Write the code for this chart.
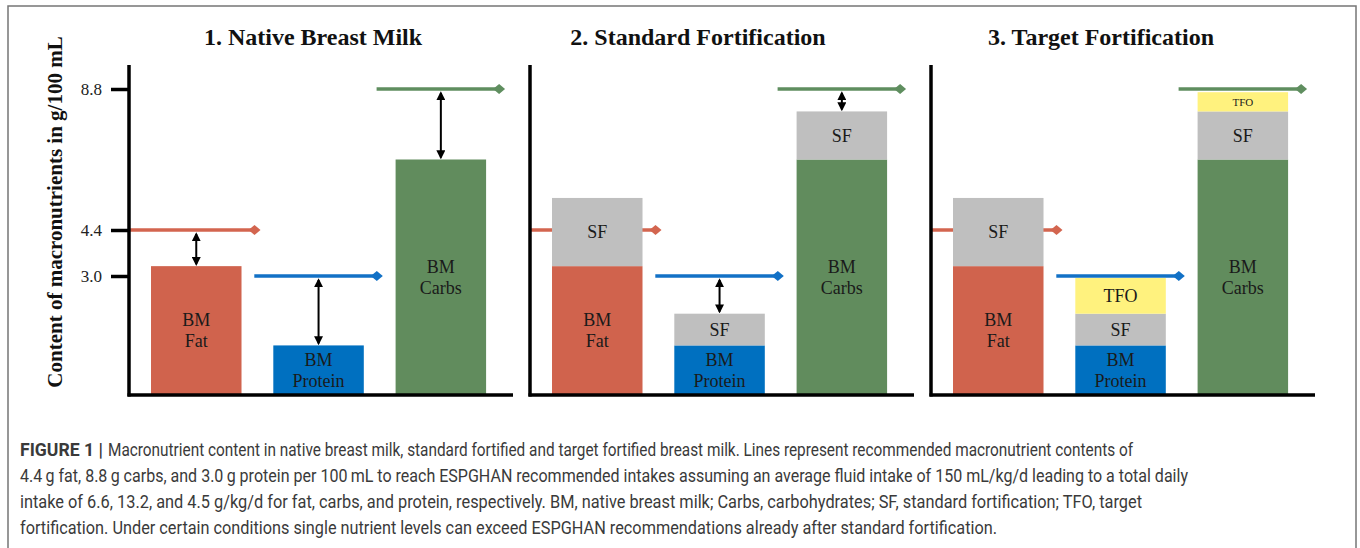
<!DOCTYPE html>
<html>
<head>
<meta charset="utf-8">
<script src="https://cdn.jsdelivr.net/npm/d3@7"></script>
<style>
  body { margin: 0; background: #fff; }
  .title { font-family: "Liberation Serif", serif; font-weight: bold; font-size: 24px; fill: #111; }
  .y-label { font-family: "Liberation Serif", serif; font-weight: bold; font-size: 21px; fill: #111; }
  .bar-text { font-family: "Liberation Serif", serif; font-size: 18px; fill: #1a1a1a; }
  .caption { font-family: Roboto, "Liberation Sans", sans-serif; font-size: 17.5px; fill: #3a3a3a; }
</style>
</head>
<body>
<div class="chart"></div>
<script>
// Step 0: Data
//= ================================
var panelTitles = ["1. Native Breast Milk", "2. Standard Fortification", "3. Target Fortification"];
var nutrients = ["Fat", "Protein", "Carbs"];
var targets = [4.4, 3.0, 8.8];
var breastMilk = [3.3, 1.25, 6.6];
var standardFort = [2.1, 0.8, 1.5];
var targetFort = [0, 0.9, 0.6];
var tickValues = [3.0, 4.4, 8.8];
// which gaps get a double arrow (panel x nutrient)
var gapArrows = [[true, true, true], [false, true, true], [false, false, false]];
var yAxisLabel = "Content of macronutrients in g/100 mL";
var captionLead = "FIGURE 1 |";
var captionLines = [
  "Macronutrient content in native breast milk, standard fortified and target fortified breast milk. Lines represent recommended macronutrient contents of",
  "4.4\u2009g fat, 8.8\u2009g carbs, and 3.0\u2009g protein per 100\u2009mL to reach ESPGHAN recommended intakes assuming an average fluid intake of 150 mL/kg/d leading to a total daily",
  "intake of 6.6, 13.2, and 4.5 g/kg/d for fat, carbs, and protein, respectively. BM, native breast milk; Carbs, carbohydrates; SF, standard fortification; TFO, target",
  "fortification. Under certain conditions single nutrient levels can exceed ESPGHAN recommendations already after standard fortification."
];

// Step 1: Set up the figure
//= ================================
var svgWidth = 1360;
var svgHeight = 548;

var panelLeft = 129;
var panelStep = 401;
var panelWidth = 384;
var baseY = 395;
var axisTop = 65;

var barColors = { Fat: "#d0634d", Protein: "#0070c0", Carbs: "#618c5d" };
var lineColors = { Fat: "#d3654f", Protein: "#1271c6", Carbs: "#5f8e5f" };
var stackColors = { SF: "#bfbfbf", TFO: "#fff27e" };

var svg = d3
  .select(".chart")
  .append("svg")
  .attr("width", svgWidth)
  .attr("height", svgHeight);

// outer figure frame
svg
  .append("rect")
  .attr("x", 8)
  .attr("y", 6)
  .attr("width", 1348)
  .attr("height", 600)
  .attr("fill", "none")
  .attr("stroke", "#767676")
  .attr("stroke-width", 1.5);

// arrow head marker
svg
  .append("defs")
  .append("marker")
  .attr("id", "head")
  .attr("viewBox", "0 0 10 10")
  .attr("refX", 8)
  .attr("refY", 5)
  .attr("markerWidth", 4.5)
  .attr("markerHeight", 4.5)
  .attr("orient", "auto-start-reverse")
  .append("path")
  .attr("d", "M0,0 L10,5 L0,10 Z")
  .attr("fill", "#000");

// Value scale (the schematic is not strictly linear, so map through the tick values)
var yScale = d3
  .scaleLinear()
  .domain([0, 3.0, 4.4, 8.8])
  .range([baseY, 276, 230, 89]);

var xBand = d3
  .scaleBand()
  .domain(nutrients)
  .range([0, panelWidth])
  .paddingInner(0.26)
  .paddingOuter(0.2)
  .align(0.45);

var stack = d3.stack().keys(["BM", "SF", "TFO"]);

// Step 2: Draw each panel
//= ================================
panelTitles.forEach(function(title, p) {
  var g = svg
    .append("g")
    .attr("transform", "translate(" + (panelLeft + p * panelStep) + ",0)");

  var rows = nutrients.map(function(n, i) {
    return {
      nutrient: n,
      BM: breastMilk[i],
      SF: p >= 1 ? standardFort[i] : 0,
      TFO: p === 2 ? targetFort[i] : 0
    };
  });
  var series = stack(rows);

  // target lines first, bars are drawn over them
  nutrients.forEach(function(n, i) {
    var x0 = i === 0 ? 0 : xBand(n) - 19;
    var x1 = xBand(n) + xBand.bandwidth() + 13;
    var yy = yScale(targets[i]);
    g.append("line")
      .attr("x1", x0)
      .attr("x2", x1)
      .attr("y1", yy)
      .attr("y2", yy)
      .attr("stroke", lineColors[n])
      .attr("stroke-width", 3.5);
    g.append("path")
      .attr("d", "M" + (x1 - 6) + "," + yy + "L" + x1 + "," + (yy - 5) + "L" + (x1 + 6) + "," + yy + "L" + x1 + "," + (yy + 5) + "Z")
      .attr("fill", lineColors[n]);
  });

  series.forEach(function(s) {
    s.forEach(function(d) {
      if (d[1] - d[0] <= 0) return;
      var n = d.data.nutrient;
      var y0 = yScale(d[0]);
      var y1 = yScale(d[1]);
      g.append("rect")
        .attr("x", xBand(n))
        .attr("y", y1)
        .attr("width", xBand.bandwidth())
        .attr("height", y0 - y1)
        .attr("fill", s.key === "BM" ? barColors[n] : stackColors[s.key]);

      var lines = s.key === "BM" ? ["BM", n] : [s.key];
      var cy = (y0 + y1) / 2;
      var small = y0 - y1 < 25;
      lines.forEach(function(txt, k) {
        g.append("text")
          .attr("class", "bar-text")
          .attr("x", xBand(n) + xBand.bandwidth() / 2)
          .attr("y", cy + (k - (lines.length - 1) / 2) * 21)
          .attr("dy", "0.35em")
          .attr("text-anchor", "middle")
          .style("font-size", small ? "11px" : null)
          .text(txt);
      });
    });
  });

  // double arrows showing the gap to the target
  nutrients.forEach(function(n, i) {
    if (!gapArrows[p][i]) return;
    var top = series[2][i][1];
    g.append("line")
      .attr("x1", xBand(n) + xBand.bandwidth() / 2)
      .attr("x2", xBand(n) + xBand.bandwidth() / 2)
      .attr("y1", yScale(targets[i]) + 4)
      .attr("y2", yScale(top) - 2)
      .attr("stroke", "#000")
      .attr("stroke-width", 2)
      .attr("marker-start", "url(#head)")
      .attr("marker-end", "url(#head)");
  });

  // axes
  g.append("line")
    .attr("x1", 0).attr("x2", 0)
    .attr("y1", axisTop).attr("y2", baseY + 1.5)
    .attr("stroke", "#000").attr("stroke-width", 3.5);
  g.append("line")
    .attr("x1", -1.5).attr("x2", panelWidth)
    .attr("y1", baseY).attr("y2", baseY)
    .attr("stroke", "#000").attr("stroke-width", 3.5);

  if (p === 0) {
    var leftAxis = d3
      .axisLeft(yScale)
      .tickValues(tickValues)
      .tickFormat(d3.format(".1f"))
      .tickSize(18)
      .tickPadding(9);
    var ax = g.append("g").call(leftAxis);
    ax.select(".domain").remove();
    ax.selectAll(".tick line").attr("stroke", "#000").attr("stroke-width", 3.5);
    ax.selectAll(".tick text")
      .attr("fill", "#222")
      .style("font-family", "'Liberation Serif', serif")
      .style("font-size", "17px");
  }

  // panel title
  g.append("text")
    .attr("class", "title")
    .attr("x", panelWidth / 2 - (p === 0 ? 8 : p === 1 ? 24 : 22))
    .attr("y", 45)
    .attr("text-anchor", "middle")
    .text(title);
});

// y-axis label
svg
  .append("text")
  .attr("class", "y-label")
  .attr("transform", "translate(62,212) rotate(-90)")
  .attr("text-anchor", "middle")
  .text(yAxisLabel);

// Step 3: Caption
//= ================================
var captionLeft = 20;
var captionEnds = [1133, 1188, 1142, 997];

// bold lead-in as its own text so the squeezed line does not run into it
var lead = svg
  .append("text")
  .attr("class", "caption")
  .attr("x", captionLeft)
  .attr("y", 456)
  .attr("textLength", 83)
  .attr("lengthAdjust", "spacingAndGlyphs")
  .style("font-weight", "bold")
  .attr("fill", "#222")
  .text(captionLead);
var leadEnd = captionLeft + 83 + 5;

captionLines.forEach(function(line, i) {
  var x0 = i === 0 ? leadEnd : captionLeft;
  svg
    .append("text")
    .attr("class", "caption")
    .attr("x", x0)
    .attr("y", 456 + i * 26)
    .attr("textLength", captionEnds[i] - x0)
    .attr("lengthAdjust", "spacingAndGlyphs")
    .text(line);
});
</script>
</body>
</html>
